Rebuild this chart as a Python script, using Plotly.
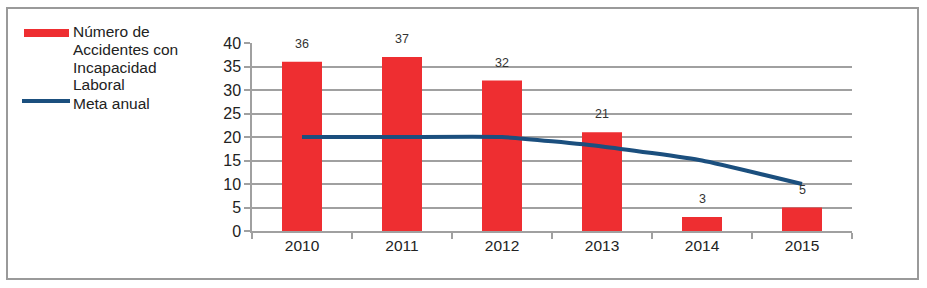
import plotly.graph_objects as go

years = ["2010", "2011", "2012", "2013", "2014", "2015"]
accidentes = [36, 37, 32, 21, 3, 5]
meta = [20, 20, 20, 18, 15, 10]
legend_bar_lines = ["Número de", "Accidentes con", "Incapacidad", "Laboral"]
legend_line_label = "Meta anual"

RED = "#EE2E31"
BLUE = "#1B4F7E"
GRID = "#A0A0A0"
TXT = "#222222"
FONT = "Liberation Sans, Arial, sans-serif"

fig = go.Figure()
fig.add_trace(go.Bar(
    x=years, y=accidentes, marker=dict(color=RED, line=dict(width=0)),
    showlegend=False, width=0.4,
))
fig.add_trace(go.Scatter(
    x=years, y=meta, mode="lines", line=dict(color=BLUE, width=4, shape="spline", smoothing=0.4),
    showlegend=False,
))

L, R, T, B = 252, 75, 43, 57
W, H = 927, 288
pw, ph = W - L - R, H - T - B

def px2x(p):
    return (p - L) / pw

def py2y(p):
    return (H - B - p) / ph

shapes = [
    dict(type="rect", xref="paper", yref="paper",
         x0=px2x(7), x1=px2x(918), y0=py2y(279), y1=py2y(8),
         line=dict(color="#9A9A9A", width=2), fillcolor="rgba(0,0,0,0)", layer="below"),
    # legend symbols
    dict(type="rect", xref="paper", yref="paper",
         x0=px2x(24), x1=px2x(69), y0=py2y(37), y1=py2y(29),
         line=dict(width=0), fillcolor=RED),
    dict(type="line", xref="paper", yref="paper",
         x0=px2x(22), x1=px2x(70), y0=py2y(101), y1=py2y(101),
         line=dict(color=BLUE, width=4)),
]
annotations = []
# data labels above bars (category index positions)
for i, v in enumerate(accidentes):
    annotations.append(dict(x=i, y=v, xref="x", yref="y", text=str(v), showarrow=False,
                            yanchor="middle", yshift=18,
                            font=dict(size=12.5, color="#333333", family=FONT)))
for i, t in enumerate(legend_bar_lines):
    annotations.append(dict(xref="paper", yref="paper", x=px2x(71), y=py2y(32 + 17.5 * i),
                            xanchor="left", yanchor="middle", text=t, showarrow=False,
                            font=dict(size=15.5, color=TXT, family=FONT)))
annotations.append(dict(xref="paper", yref="paper", x=px2x(71), y=py2y(103),
                        xanchor="left", yanchor="middle", text=legend_line_label, showarrow=False,
                        font=dict(size=15.5, color=TXT, family=FONT)))

fig.update_layout(
    width=W, height=H,
    margin=dict(l=L, r=R, t=T, b=B),
    paper_bgcolor="white", plot_bgcolor="white",
    font=dict(family=FONT, color=TXT, size=15),
    showlegend=False,
    shapes=shapes, annotations=annotations,
    bargap=0.6,
)
fig.update_yaxes(range=[0, 40], dtick=5, showgrid=True, gridcolor=GRID, gridwidth=1.5,
                 showline=True, linecolor=GRID, linewidth=1.5, ticks="outside", ticklen=6,
                 tickcolor=GRID, tickwidth=1.5, tickfont=dict(size=16, color=TXT),
                 zeroline=False, fixedrange=True)
fig.update_xaxes(type="category", range=[-0.5, len(years) - 0.5],
                 showline=True, linecolor=GRID, linewidth=1.5,
                 ticks="outside", ticklen=6,
                 tickcolor=GRID, tickwidth=1.5, tickson="boundaries",
                 tickfont=dict(size=15.5, color=TXT), showgrid=False, fixedrange=True)

fig.write_html("out.html", config={"displayModeBar": False},
               post_script="document.body.style.margin='0';")
